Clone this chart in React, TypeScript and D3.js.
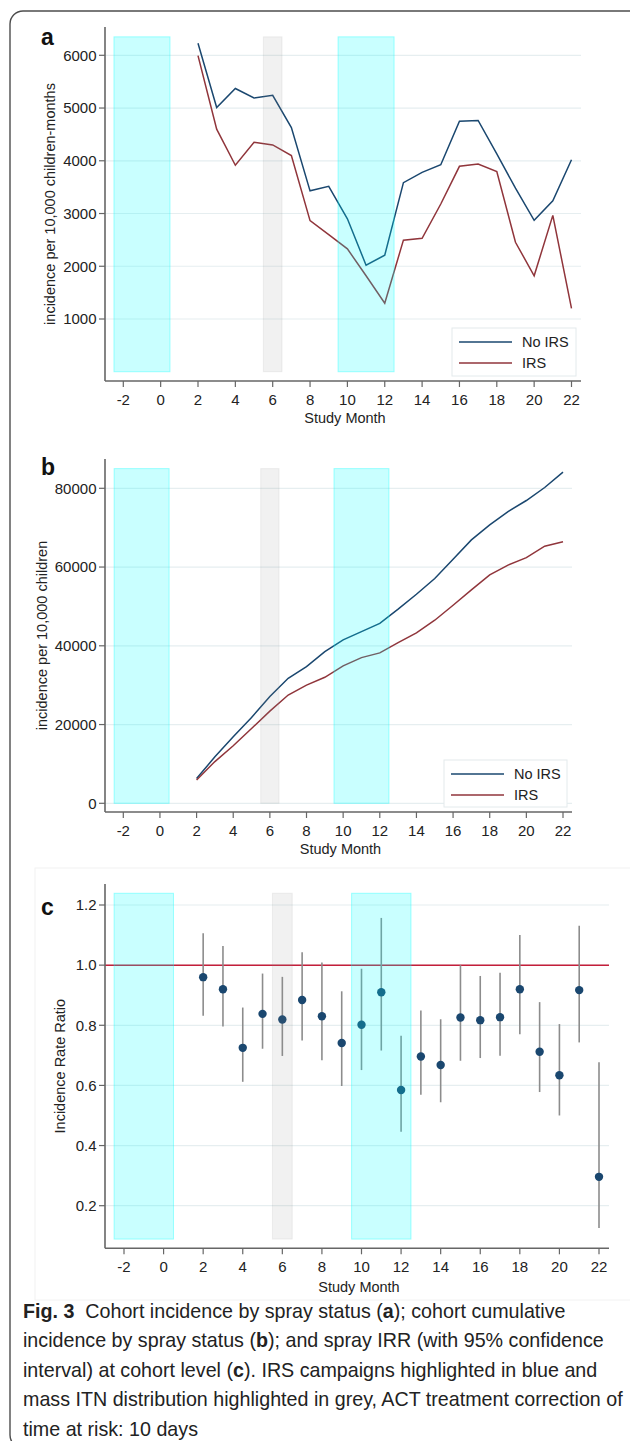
import React, { useEffect, useRef, useState } from 'react';
import * as d3 from 'd3';

// study months with observations
const months = [2, 3, 4, 5, 6, 7, 8, 9, 10, 11, 12, 13, 14, 15, 16, 17, 18, 19, 20, 21, 22];

// panel a: incidence per 10,000 children-months
const noIrsRate = [6230, 5010, 5370, 5190, 5240, 4630, 3430, 3515, 2900, 2020, 2210, 3585, 3780, 3925, 4750, 4765, 4130, 3480, 2870, 3240, 4020];
const irsRate = [5995, 4600, 3915, 4350, 4300, 4100, 2865, 2600, 2330, 1820, 1300, 2495, 2530, 3180, 3895, 3940, 3795, 2455, 1820, 2965, 1200];

// panel b: cumulative incidence per 10,000 children
const noIrsCum = [6300, 11800, 16900, 21800, 27100, 31750, 34700, 38500, 41500, 43600, 45700, 49300, 53100, 57100, 62000, 66900, 70700, 74100, 76900, 80200, 84100];
const irsCum = [5900, 10600, 14600, 19000, 23400, 27500, 30000, 32000, 34900, 37000, 38200, 40800, 43300, 46500, 50300, 54200, 58000, 60500, 62400, 65300, 66400];

// panel c: incidence rate ratio with 95% CI
const irrEst = [0.96, 0.92, 0.725, 0.838, 0.819, 0.884, 0.83, 0.741, 0.802, 0.91, 0.585, 0.696, 0.668, 0.826, 0.817, 0.827, 0.92, 0.712, 0.634, 0.917, 0.296];
const irrLo = [0.832, 0.796, 0.612, 0.722, 0.698, 0.749, 0.684, 0.598, 0.651, 0.716, 0.446, 0.569, 0.544, 0.682, 0.691, 0.699, 0.77, 0.578, 0.5, 0.743, 0.126];
const irrHi = [1.106, 1.064, 0.859, 0.972, 0.961, 1.043, 1.009, 0.913, 0.988, 1.157, 0.765, 0.849, 0.82, 1.0, 0.964, 0.975, 1.1, 0.877, 0.804, 1.131, 0.677];

const xTicks = [-2, 0, 2, 4, 6, 8, 10, 12, 14, 16, 18, 20, 22];
const rateTicks = [1000, 2000, 3000, 4000, 5000, 6000];
const cumTicks = [0, 20000, 40000, 60000, 80000];
const irrTicks = [0.2, 0.4, 0.6, 0.8, 1.0, 1.2];

// IRS campaigns (cyan) and mass ITN distribution (grey)
const irsBands = [[-2.5, 0.5], [9.5, 12.5]];
const itnBands = [[5.5, 6.5]];

// caption, [text, bold] pieces per line
const captionLines: [string, boolean][][] = [
  [['Fig. 3', true], ['  Cohort incidence by spray status (', false], ['a', true], ['); cohort cumulative', false]],
  [['incidence by spray status (', false], ['b', true], ['); and spray IRR (with 95% confidence', false]],
  [['interval) at cohort level (', false], ['c', true], ['). IRS campaigns highlighted in blue and', false]],
  [['mass ITN distribution highlighted in grey, ACT treatment correction of', false]],
  [['time at risk: 10 days', false]],
];

const NAVY = '#1a476f';
const MAROON = '#90353b';
const FONT = '"Liberation Sans", Arial, sans-serif';

type Scale = d3.ScaleLinear<number, number>;

function Panel(props: {
  label: string; labelY: number;
  yTitle: string; yTitleX: number;
  x: Scale; y: Scale;
  yTicks: number[]; yFmt: (v: number) => string;
  xAxisY: number; axisLeft: number; axisRight: number; yAxisTop: number;
  bandLo: number; bandHi: number; titleGap: number;
  children?: React.ReactNode;
}) {
  const { x, y, xAxisY, axisLeft, axisRight, yAxisTop } = props;
  const bandTop = y(props.bandHi);
  const bandBot = y(props.bandLo);
  return (
    <g fontFamily={FONT} fill="#222">
      {props.yTicks.map(t => (
        <line key={'g' + t} x1={axisLeft} x2={axisRight} y1={y(t)} y2={y(t)} stroke="#e6eef0" strokeWidth={1.2} />
      ))}
      {props.children}
      {/* highlight bands sit over the marks */}
      {irsBands.map((b, i) => (
        <rect key={'c' + i} x={x(b[0])} width={x(b[1]) - x(b[0])} y={bandTop} height={bandBot - bandTop}
          fill="#00ffff" fillOpacity={0.21} stroke="#00ffff" strokeOpacity={0.35} strokeWidth={1} />
      ))}
      {itnBands.map((b, i) => (
        <rect key={'i' + i} x={x(b[0])} width={x(b[1]) - x(b[0])} y={bandTop} height={bandBot - bandTop}
          fill="#8a8a8a" fillOpacity={0.12} stroke="#8a8a8a" strokeOpacity={0.12} strokeWidth={1} />
      ))}
      <line x1={axisLeft} x2={axisLeft} y1={yAxisTop} y2={xAxisY} stroke="#666" strokeWidth={1.6} />
      <line x1={axisLeft} x2={axisRight} y1={xAxisY} y2={xAxisY} stroke="#666" strokeWidth={1.6} />
      {props.yTicks.map(t => (
        <g key={'y' + t}>
          <line x1={axisLeft - 6} x2={axisLeft} y1={y(t)} y2={y(t)} stroke="#666" strokeWidth={1.2} />
          <text x={axisLeft - 8.5} y={y(t)} dy="0.35em" textAnchor="end" fontSize={15}>{props.yFmt(t)}</text>
        </g>
      ))}
      {xTicks.map(t => (
        <g key={'x' + t}>
          <line x1={x(t)} x2={x(t)} y1={xAxisY} y2={xAxisY + 6} stroke="#666" strokeWidth={1.2} />
          <text x={x(t)} y={xAxisY + 18.5} dy="0.35em" textAnchor="middle" fontSize={15}>{t}</text>
        </g>
      ))}
      <text x={(axisLeft + axisRight) / 2 + 2} y={xAxisY + props.titleGap} dy="0.35em" textAnchor="middle" fontSize={14.5}>Study Month</text>
      <text transform={`translate(${props.yTitleX},${(yAxisTop + xAxisY) / 2}) rotate(-90)`} dy="0.35em"
        textAnchor="middle" fontSize={14.5}>{props.yTitle}</text>
      <text x={41} y={props.labelY} dy="0.36em" fontSize={23} fontWeight="bold" fill="#111">{props.label}</text>
    </g>
  );
}

function Legend({ x0, y0, w, h }: { x0: number; y0: number; w: number; h: number }) {
  const items = [{ name: 'No IRS', color: NAVY }, { name: 'IRS', color: MAROON }];
  return (
    <g fontFamily={FONT}>
      <rect x={x0} y={y0} width={w} height={h} fill="#fff" stroke="#e3eaec" strokeWidth={1} />
      {items.map((it, i) => (
        <g key={it.name}>
          <line x1={x0 + 7} x2={x0 + 60} y1={y0 + 14 + i * 21} y2={y0 + 14 + i * 21} stroke={it.color} strokeWidth={1.5} />
          <text x={x0 + 70} y={y0 + 14 + i * 21} dy="0.36em" fontSize={14.5} fill="#222">{it.name}</text>
        </g>
      ))}
    </g>
  );
}

export default function App() {
  const xa = d3.scaleLinear().domain([-2, 22]).range([123.3, 571.5]);
  const ya = d3.scaleLinear().domain([1000, 6000]).range([319, 55.3]);
  const xb = d3.scaleLinear().domain([-2, 22]).range([123.3, 563]);
  const yb = d3.scaleLinear().domain([0, 80000]).range([803.3, 488.3]);
  const xc = d3.scaleLinear().domain([-2, 22]).range([124, 599]);
  const yc = d3.scaleLinear().domain([0.2, 1.2]).range([1205.7, 905]);

  const lineA = d3.line<number>().x((_, i) => xa(months[i])).y(d => ya(d));
  const lineB = d3.line<number>().x((_, i) => xb(months[i])).y(d => yb(d));

  // squeeze the caption horizontally so the longest line spans ~600px
  const longRef = useRef<SVGTextElement | null>(null);
  const [sx, setSx] = useState(0.9);
  useEffect(() => {
    if (longRef.current) {
      const w = longRef.current.getComputedTextLength();
      if (w > 0) setSx(Math.min(1, 600 / w));
    }
  }, []);

  return (
    <svg width={630} height={1441} style={{ display: 'block', position: 'absolute', left: 0, top: 0 }}>
      <rect x={0} y={0} width={630} height={1441} fill="#fff" />
      <rect x={10} y={11} width={640} height={1437} rx={13} fill="none" stroke="#4d4d4d" strokeWidth={1.4} />

      <Panel label="a" labelY={37} yTitle="incidence per 10,000 children-months" yTitleX={50}
        x={xa} y={ya} yTicks={rateTicks} yFmt={d3.format('d')}
        xAxisY={381} axisLeft={105} axisRight={581} yAxisTop={27} bandLo={0} bandHi={6350} titleGap={37}>
        <path d={lineA(noIrsRate) || ''} fill="none" stroke={NAVY} strokeWidth={1.5} />
        <path d={lineA(irsRate) || ''} fill="none" stroke={MAROON} strokeWidth={1.5} />
      </Panel>
      <Legend x0={452} y0={328} w={124} h={48} />

      <Panel label="b" labelY={467} yTitle="incidence per 10,000 children" yTitleX={42}
        x={xb} y={yb} yTicks={cumTicks} yFmt={d3.format('d')}
        xAxisY={812} axisLeft={105} axisRight={572} yAxisTop={459} bandLo={0} bandHi={85000} titleGap={37}>
        <path d={lineB(noIrsCum) || ''} fill="none" stroke={NAVY} strokeWidth={1.5} />
        <path d={lineB(irsCum) || ''} fill="none" stroke={MAROON} strokeWidth={1.5} />
      </Panel>
      <Legend x0={444} y0={760} w={123} h={47} />

      <rect x={35} y={868} width={600} height={432} fill="none" stroke="#f2f2f2" strokeWidth={1} />
      <Panel label="c" labelY={907} yTitle="Incidence Rate Ratio" yTitleX={60}
        x={xc} y={yc} yTicks={irrTicks} yFmt={d3.format('.1f')}
        xAxisY={1248.3} axisLeft={105} axisRight={609} yAxisTop={884} bandLo={0.089} bandHi={1.239} titleGap={39}>
        <line x1={105} x2={609} y1={yc(1)} y2={yc(1)} stroke="#c41e3a" strokeWidth={1.5} />
        {months.map((m, i) => (
          <line key={'e' + m} x1={xc(m)} x2={xc(m)} y1={yc(irrLo[i])} y2={yc(irrHi[i])} stroke="#8c8c8c" strokeWidth={1.6} />
        ))}
        {months.map((m, i) => (
          <circle key={'p' + m} cx={xc(m)} cy={yc(irrEst[i])} r={4.2} fill={NAVY} />
        ))}
      </Panel>

      <g transform={`translate(23,0) scale(${sx},1)`} fontFamily={FONT} fontSize={20} fill="#222">
        {captionLines.map((ln, i) => (
          <text key={i} ref={i === 3 ? longRef : undefined} x={0} y={1311 + i * 29.4} dy="0.35em" style={{ whiteSpace: 'pre' }}>
            {ln.map((p, j) => (
              <tspan key={j} fontWeight={p[1] ? 'bold' : 'normal'}>{p[0]}</tspan>
            ))}
          </text>
        ))}
      </g>
    </svg>
  );
}
